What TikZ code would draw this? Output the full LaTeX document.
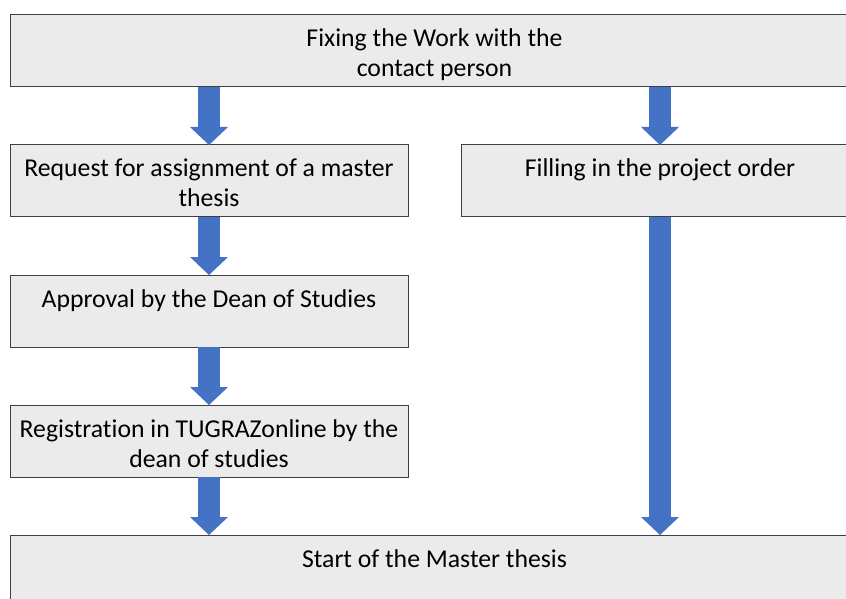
\documentclass[tikz,border=0pt]{standalone}
\usepackage{fontspec}
\setmainfont{Carlito}[Ligatures=NoCommon]
\usepackage{xcolor}
\usetikzlibrary{positioning,arrows.meta}

\definecolor{boxgray}{HTML}{EBEBEB}
\definecolor{linegray}{HTML}{404040}
\definecolor{arrowblue}{HTML}{4472C4}

\tikzset{
  stepbox/.style={draw=linegray, line width=0.75pt, fill=boxgray, align=flush center,
    text width=292.5pt, text height=21pt, text depth=27pt,
    inner sep=3pt, outer sep=0pt,
    font=\fontsize{19.3}{22.5}\selectfont},
  widebox/.style={stepbox, text width=630.75pt},
  flowarrow/.style={arrowblue, line width=16.5pt,
    -{Triangle[length=13.5pt, width=28.5pt, line width=0pt]}}
}

\begin{document}
\begin{tikzpicture}[node distance=43.5pt and 0pt]
    \useasboundingbox (0,0) rectangle (634.5pt,-449.25pt);

    \node [widebox, anchor=north west] (fix) at (7.5pt,-11.25pt)
      {Fixing the Work with the\\contact person};
    \node [stepbox, below right=of fix.south west] (req)
      {Request for assignment of a master\\thesis};
    \node [stepbox, below left=of fix.south east] (order)
      {Filling in the project order};
    \node [stepbox, below=of req] (appr)
      {Approval by the Dean of Studies};
    \node [stepbox, below=of appr] (reg)
      {Registration in TUGRAZonline by the\\dean of studies};
    \node [widebox, below right=of reg.south west] (start)
      {Start of the Master thesis};

    \draw [flowarrow] (fix.south -| req.north) -- (req.north);
    \draw [flowarrow] (fix.south -| order.north) -- (order.north);
    \draw [flowarrow] (req.south) -- (appr.north);
    \draw [flowarrow] (appr.south) -- (reg.north);
    \draw [flowarrow] (reg.south) -- (start.north -| reg.south);
    \draw [flowarrow] (order.south) -- (start.north -| order.south);
\end{tikzpicture}
\end{document}
